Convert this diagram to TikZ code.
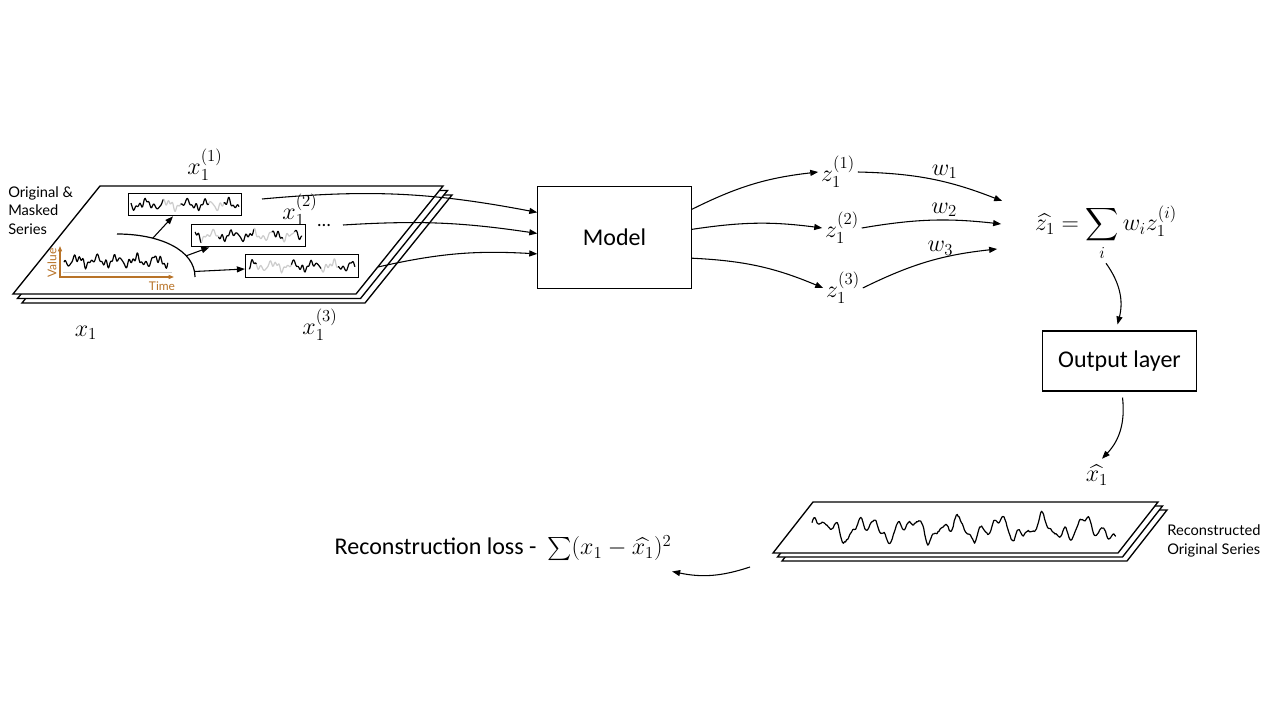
\RequirePackage{fix-cm}
\documentclass[tikz,border=0pt]{standalone}
\usepackage{exscale}
\usepackage[no-math]{fontspec}
\setmainfont{Carlito}
\newfontfamily\gillfont{Lato}
\usetikzlibrary{arrows.meta,calc,positioning}
\definecolor{axisbrown}{RGB}{184,115,40}
\pgfmathsetseed{7}

\begin{document}
\begin{tikzpicture}[
x=0.75pt,y=-0.75pt,
>={Triangle[length=6pt,width=4.5pt]},
declare function={
    sg(\t)=0.45*sin(1900*\t)+0.3*sin(4700*\t+40)+0.22*sin(8300*\t+10)+0.1*sin(9700*\t+70);
    sgb(\t)=0.45*sin(2500*\t)+0.3*sin(5300*\t+30)+0.22*sin(9100*\t+60)+0.08*sin(13900*\t+20)+0.04*rand;
},
mth/.style={font=\fontsize{18}{22}\selectfont,inner sep=2pt},
box/.style={
    rectangle,draw,line width=0.8pt,font=\fontsize{18}{22}\selectfont
},
mbox/.style={
    rectangle,draw,line width=0.7pt,minimum width=85pt,minimum height=17pt,inner sep=0pt
},
sheet/.style={draw,fill=white,line width=1pt},
note/.style={font=\gillfont\fontsize{11}{14}\selectfont,align=left,inner sep=0pt},
axlbl/.style={font=\gillfont\fontsize{9}{10}\selectfont,text=axisbrown,inner sep=1pt},
axis/.style={axisbrown,line width=0.9pt,-{Triangle[length=4pt,width=3pt]}},
arr/.style={->,line width=0.8pt},
wav/.style={line width=0.9pt,line join=round}
]
    \useasboundingbox (0,0) rectangle (1280,720);

    % input series, stacked sheets
    \foreach \d in {2,1,0}
        \draw[sheet,shift={(4.5*\d,4.5*\d)}] (13,294) -- (100,186) -- (443,186) -- (356,294) -- cycle;
    \node(orig)[note,anchor=north west] at (8,186){Original \&\\Masked\\Series};

    \draw[axis] (60,278) -- (60,246);
    \draw[axis] (59,277) -- (174,277);
    \draw[gray!40,line width=0.6pt] (63,272) -- (172,272);
    \node(val)[axlbl,rotate=90] at (52,263){Value};
    \node(tim)[axlbl] at (162,286){Time};
    \draw[wav] plot[domain=0:1,samples=150] ({64+104*\x},{261-8*sg(\x+0.3)});

    \draw[line width=0.9pt] (117,234) .. controls (160,234) and (195,250) .. (195,277)
        coordinate[pos=0.3](a1) coordinate[pos=0.7](a2) coordinate[pos=0.93](a3);

    % masked copies
    \node(b1)[mbox] at (185,204.5){};
    \node(b2)[mbox] at (248.5,235.5){};
    \node(b3)[mbox] at (302,266){};
    \foreach \p/\q/\c in {0/0.3/black,0.3/0.46/gray!40,0.46/0.72/black,0.72/0.86/gray!40,0.86/1/black}
        \draw[wav,color=\c] plot[domain=\p:\q,samples=40] ({131+108*\x},{204.5-7*sg(\x+0.1)});
    \foreach \p/\q/\c in {0/0.06/black,0.06/0.22/gray!40,0.22/0.55/black,0.55/0.72/gray!40,0.72/0.82/black,0.82/0.93/gray!40,0.93/1/black}
        \draw[wav,color=\c] plot[domain=\p:\q,samples=40] ({195+107*\x},{235.5-7*sg(\x+0.45)});
    \foreach \p/\q/\c in {0/0.07/black,0.07/0.4/gray!40,0.4/0.68/black,0.68/0.84/gray!40,0.84/1/black}
        \draw[wav,color=\c] plot[domain=\p:\q,samples=40] ({249+106*\x},{266-7*sg(\x+0.2)});
    \draw[arr] (a1) -- ($(b1.south)+(-12,0)$);
    \draw[arr] (a2) -- ($(b2.south west)+(18,0)$);
    \draw[arr] (a3) -- ($(b3.west)+(0,3)$);

    \node(x11)[mth] at (205,165){$x_1^{(1)}$};
    \node(x12)[mth] at (300,210){$x_1^{(2)}$};
    \node(dots)[font=\fontsize{14}{16}\selectfont] at (324,226){\dots};
    \node(x1)[mth] at (86,333){$x_1$};
    \node(x13)[mth] at (320,325){$x_1^{(3)}$};

    % model and weights
    \node(model)[box,minimum width=115pt,minimum height=76pt] at (614.5,237.5){Model};
    \coordinate(s1) at (262,199);
    \coordinate(s2) at (343,225);
    \coordinate(s3) at (378,267);
    \draw[arr] (s1) to[bend left=8] (model.162);
    \draw[arr] (s2) to[bend left=6] (model.177);
    \draw[arr] (s3) to[bend left=8] (model.192);

    \node(z1)[mth] at (838,172){$z_1^{(1)}$};
    \node(z2)[mth] at (842,228){$z_1^{(2)}$};
    \node(z3)[mth] at (843,288){$z_1^{(3)}$};
    \draw[arr] (model.20) to[bend left=10] (z1.west);
    \draw[arr] (model.6) to[bend left=8] (z2.west);
    \draw[arr] (model.-15) to[bend left=10] (z3.west);

    \node(zhat)[mth] at (1106,233){$\displaystyle \widehat{z_1}=\sum_i w_i z_1^{(i)}$};
    \draw[arr] (z1.east) to[bend left=10] node(w1)[mth,pos=0.6,above]{$w_1$} ($(zhat.west)+(-30,-32)$);
    \draw[arr] (z2.east) to[bend left=8] node(w2)[mth,pos=0.6,above]{$w_2$} ($(zhat.west)+(-31,-9)$);
    \draw[arr] (z3.east) to[bend left=10] node(w3)[mth,pos=0.6,above]{$w_3$} ($(zhat.west)+(-35,16)$);

    % output and reconstruction
    \node(outl)[box,minimum width=116pt,minimum height=45pt] at (1119.5,361){Output layer};
    \draw[arr] (zhat.south) to[bend left=25] ($(outl.north)+(-2,-6)$);
    \node(xhat)[mth] at (1097,475){$\widehat{x_1}$};
    \draw[arr] ($(outl.south)+(3,6)$) to[bend left=25] ($(xhat.north)+(5,-3)$);

    \foreach \d in {2,1,0}
        \draw[sheet,shift={(4.5*\d,4*\d)}] (773,553) -- (813,502) -- (1158,502) -- (1118,553) -- cycle;
    \draw[wav] plot[domain=0:1,samples=300] ({812+304*\x},{529-17*sgb(\x)});
    \node(recon)[note,anchor=west] at (1167,541){Reconstructed\\Original Series};

    \node(loss)[font=\fontsize{18}{22}\selectfont,anchor=west] at (330,548){Reconstruction loss -\ \ $\sum(x_1-\widehat{x_1})^2$};
    \coordinate(lfrom) at (750,567);
    \draw[arr] (lfrom) to[bend left=15] ($(loss.south east)+(-4,6)$);
\end{tikzpicture}
\end{document}
